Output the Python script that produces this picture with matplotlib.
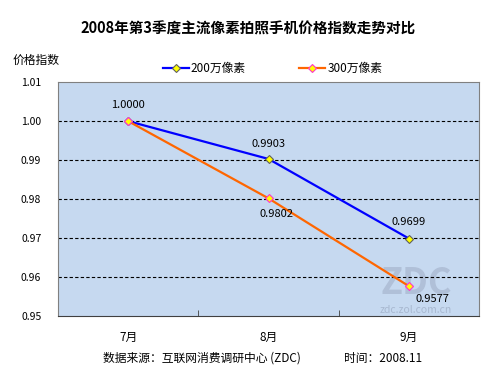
import matplotlib
matplotlib.use("Agg")
import matplotlib.pyplot as plt

plt.rcParams['font.family'] = ['Noto Sans CJK SC', 'DejaVu Sans']

months = ["7月", "8月", "9月"]
series_200 = [1.0000, 0.9903, 0.9699]
series_300 = [1.0000, 0.9802, 0.9577]
yticks = [0.95, 0.96, 0.97, 0.98, 0.99, 1.00, 1.01]

fig = plt.figure(figsize=(5, 3.75), dpi=100)
ax = fig.add_axes([0.116, 0.157, 0.842, 0.624])
ax.set_facecolor("#C6D9F0")

x = list(range(len(months)))
ax.plot(x, series_200, color="#0000FF", lw=1.6, marker="D", ms=4,
        mfc="#FFFF00", mec="#606060", mew=0.8, label="200万像素", zorder=3)
ax.plot(x, series_300, color="#FF6600", lw=1.6, marker="D", ms=4,
        mfc="#FFFF00", mec="#FF33CC", mew=0.8, label="300万像素", zorder=3)

for y in yticks[1:-1]:
    ax.axhline(y, color="black", ls=(0, (3, 2)), lw=0.8, zorder=1)

ax.set_xlim(-0.5, 2.5)
ax.set_ylim(0.95, 1.01)
ax.set_yticks(yticks)
ax.set_yticklabels([f"{v:.2f}" for v in yticks], fontsize=7.5)
ax.set_xticks(x)
ax.set_xticklabels(months, fontsize=8.5)
ax.set_xticks([0.5, 1.5], minor=True)
ax.tick_params(axis="x", which="major", length=0, pad=11)
ax.tick_params(axis="x", which="minor", direction="in", length=4, color="#404040")
ax.tick_params(axis="y", length=0, pad=12)

for s in ["top", "right", "left"]:
    ax.spines[s].set_color("#808080")
ax.spines["bottom"].set_color("#404040")

# data labels
ax.annotate(f"{series_200[0]:.4f}", (0, series_200[0]), xytext=(0, 8),
            textcoords="offset points", ha="center", va="bottom", fontsize=8)
ax.annotate(f"{series_200[1]:.4f}", (1, series_200[1]), xytext=(0, 7),
            textcoords="offset points", ha="center", va="bottom", fontsize=8)
ax.annotate(f"{series_200[2]:.4f}", (2, series_200[2]), xytext=(0, 8),
            textcoords="offset points", ha="center", va="bottom", fontsize=8)
ax.annotate(f"{series_300[1]:.4f}", (1, series_300[1]), xytext=(6, -8),
            textcoords="offset points", ha="center", va="top", fontsize=8)
ax.annotate(f"{series_300[2]:.4f}", (2, series_300[2]), xytext=(17, -6),
            textcoords="offset points", ha="center", va="top", fontsize=8)

# watermark
ax.text(2.05, 0.9585, "ZDC", ha="center", va="center", fontsize=26,
        color="#B0C0D8", fontweight="bold", zorder=0)
ax.text(2.05, 0.9515, "zdc.zol.com.cn", ha="center", va="center", fontsize=7.5,
        color="#A8B8D0", zorder=0)

fig.text(0.496, 0.925, "2008年第3季度主流像素拍照手机价格指数走势对比",
         ha="center", va="center", fontsize=10.5, fontweight="bold")
fig.text(0.026, 0.84, "价格指数", ha="left", va="center", fontsize=8.5)
fig.legend(loc="center", bbox_to_anchor=(0.545, 0.818), ncol=2, frameon=False,
           fontsize=8.5, handlelength=2.2, columnspacing=4.5, handletextpad=0.2)
fig.text(0.206, 0.045, "数据来源：互联网消费调研中心 (ZDC)", ha="left",
         va="center", fontsize=8.5)
fig.text(0.688, 0.045, "时间：2008.11", ha="left", va="center", fontsize=8.5)

fig.savefig("out.png", dpi=100)
